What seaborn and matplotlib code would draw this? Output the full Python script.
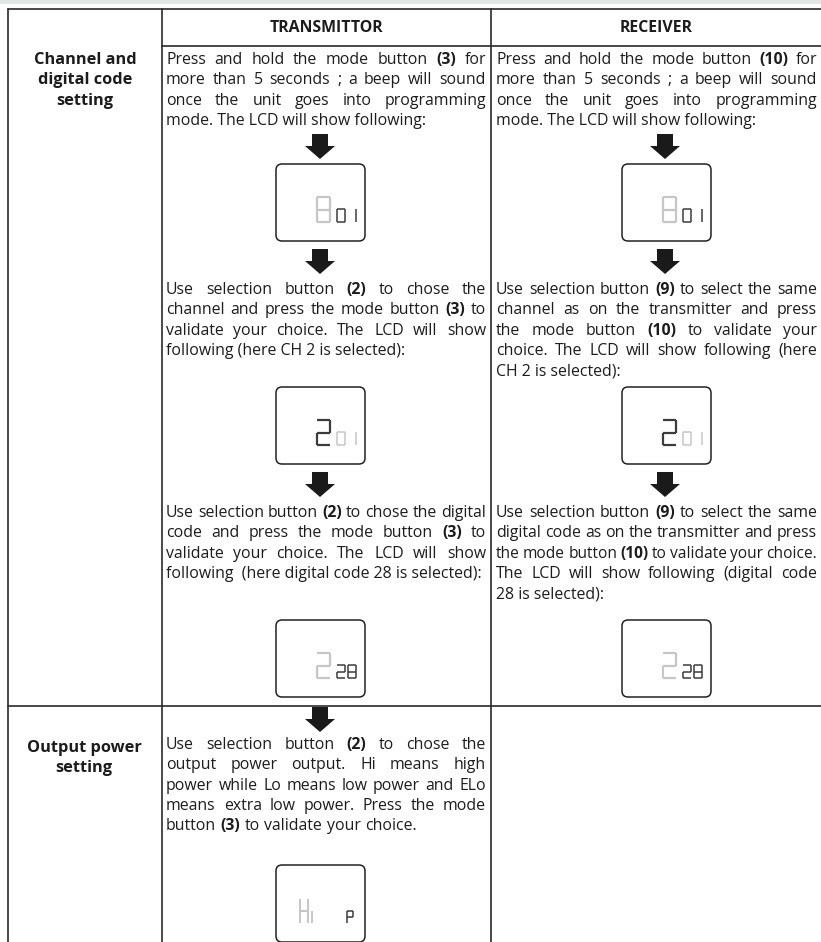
import matplotlib
matplotlib.use("Agg")
import matplotlib.pyplot as plt
import seaborn as sns
from matplotlib.patches import Polygon, FancyBboxPatch, Rectangle

# --- content -------------------------------------------------------------
header_labels = ["TRANSMITTOR", "RECEIVER"]
row_labels = ["Channel and\ndigital code\nsetting", "Output power\nsetting"]

tx_paragraphs = [
    ["Press and hold the mode button **(3)** for",
     "more than 5 seconds ; a beep will sound",
     "once the unit goes into programming",
     "mode. The LCD will show following:"],
    ["Use selection button **(2)** to chose the",
     "channel and press the mode button **(3)** to",
     "validate your choice. The LCD will show",
     "following (here CH 2 is selected):"],
    ["Use selection button **(2)** to chose the digital",
     "code and press the mode button **(3)** to",
     "validate your choice. The LCD will show",
     "following  (here digital code 28 is selected):"],
    ["Use selection button **(2)** to chose the",
     "output power output. Hi means high",
     "power while Lo means low power and ELo",
     "means extra low power. Press the mode",
     "button  **(3)**  to validate your choice."],
]
rx_paragraphs = [
    ["Press and hold the mode button **(10)** for",
     "more than 5 seconds ; a beep will sound",
     "once the unit goes into programming",
     "mode. The LCD will show following:"],
    ["Use selection button **(9)** to select the same",
     "channel as on the transmitter and press",
     "the mode button **(10)** to validate your",
     "choice. The LCD will show following (here",
     "CH 2 is selected):"],
    ["Use selection button **(9)** to select the same",
     "digital code as on the transmitter and press",
     "the mode button **(10)** to validate your choice.",
     "The LCD will show following (digital code",
     "28 is selected):"],
]

# LCD readings: big glyphs, small glyphs, which part is lit
lcd_main = ["8", "2", "2", "Hi"]
lcd_sub = ["01", "01", "28", "P"]
lcd_main_lit = [False, True, False, False]

# --- layout (pixel space) ------------------------------------------------
W, H = 821, 942
INK = "#1c1c1c"
LINE = "#2a2a2a"
LIT = "#3c3c3c"
UNLIT = "#c6c6c6"
FS = 11.4
LEAD = 20.3

sns.set_theme(style="white")
plt.rcParams["font.family"] = ["Open Sans", "DejaVu Sans"]

fig = plt.figure(figsize=(W / 100, H / 100), dpi=100)
ax = fig.add_axes([0, 0, 1, 1])
ax.set_xlim(0, W)
ax.set_ylim(H, 0)
ax.set_axis_off()
renderer = fig.canvas.get_renderer()

# grey strip at the very top
ax.add_patch(Rectangle((0, 0), W, 4, color="#e4e6e6", lw=0))

# table rules
lw = 1.2
ax.plot([8, W], [9, 9], color=LINE, lw=lw)
ax.plot([8, 8], [9, H], color=LINE, lw=lw)
ax.plot([162, 162], [9, H], color=LINE, lw=lw)
ax.plot([491, 491], [9, H], color=LINE, lw=lw)
ax.plot([162, W], [46, 46], color=LINE, lw=lw)
ax.plot([8, W], [706, 706], color=LINE, lw=lw)

for lab, cx in zip(header_labels, [326, 656]):
    ax.text(cx, 28, lab, ha="center", va="center", fontsize=FS,
            fontweight="bold", color=INK)

for lab, (cx, cy) in zip(row_labels, [(85, 60), (84, 748)]):
    for i, part in enumerate(lab.split("\n")):
        ax.text(cx, cy + i * LEAD, part, ha="center", va="center",
                fontsize=FS + 0.4, fontweight="bold", color=INK)


def draw_line(text, x0, x1, y, justify):
    if not justify and "**" not in text:
        ax.text(x0, y, text, fontsize=FS, ha="left", va="center", color=INK)
        return
    size = FS
    while True:
        arts = []
        for w in text.split():
            bold = w.startswith("**")
            arts.append(ax.text(0, y, w.strip("*"), fontsize=size,
                                fontweight="bold" if bold else "normal",
                                ha="left", va="center", color=INK))
        widths = [a.get_window_extent(renderer).width for a in arts]
        space = 0.28 * size * 100 / 72
        n = len(arts)
        if justify and n > 1:
            gap = (x1 - x0 - sum(widths)) / (n - 1)
        else:
            gap = space
        if (gap < space * 0.6 or x0 + sum(widths) + gap * (n - 1) > x1) and size > 9:
            for a in arts:
                a.remove()
            size -= 0.2
            continue
        x = x0
        for a, w in zip(arts, widths):
            a.set_x(x)
            x += w + gap
        return


def draw_par(lines, x0, x1, y0):
    for i, ln in enumerate(lines):
        draw_line(ln, x0, x1, y0 + i * LEAD, justify=i < len(lines) - 1)


def arrow(cx, y0):
    hw, sw, hh, tot = 15, 8, 13, 25
    pts = [(cx - sw, y0), (cx + sw, y0), (cx + sw, y0 + tot - hh),
           (cx + hw, y0 + tot - hh), (cx, y0 + tot), (cx - hw, y0 + tot - hh),
           (cx - sw, y0 + tot - hh)]
    ax.add_patch(Polygon(pts, closed=True, color="#1a1a1a", lw=0))


SEG = {
    "0": "abcdef", "1": "bc", "2": "abged", "8": "abcdefg",
    "H": "bcefg", "P": "abefg", "i": "c",
}


def seg_char(ch, x, yb, w, h, color, lw_):
    yt, ym = yb - h, yb - h / 2
    segs = {
        "a": ((x, yt), (x + w, yt)), "b": ((x + w, yt), (x + w, ym)),
        "c": ((x + w, ym), (x + w, yb)), "d": ((x, yb), (x + w, yb)),
        "e": ((x, ym), (x, yb)), "f": ((x, yt), (x, ym)),
        "g": ((x, ym), (x + w, ym)),
    }
    for s in SEG[ch]:
        (xa, ya), (xb, yb_) = segs[s]
        ax.plot([xa, xb], [ya, yb_], color=color, lw=lw_,
                solid_capstyle="butt")


def lcd(x, y, idx):
    ax.add_patch(FancyBboxPatch((x, y), 89, 77,
                                boxstyle="round,pad=0,rounding_size=6",
                                fc="white", ec="#222222", lw=1.1))
    main_col = LIT if lcd_main_lit[idx] else UNLIT
    sub_col = UNLIT if lcd_main_lit[idx] else LIT
    yb = y + 58
    if lcd_main[idx] == "Hi":
        seg_char("H", x + 24, yb, 8, 24, main_col, 1.4)
        seg_char("i", x + 36, yb, 0, 24, main_col, 1.4)
        seg_char("P", x + 71, yb, 6, 12, sub_col, 1.1)
        return
    seg_char(lcd_main[idx], x + 41, yb, 13, 25, main_col, 1.6)
    for k, ch in enumerate(lcd_sub[idx]):
        seg_char(ch, x + 61 + 11 * k, yb, 8, 13, sub_col, 1.1)


# transmitter column
tx_starts = [60, 290, 513, 745]
for par, y0 in zip(tx_paragraphs, tx_starts):
    draw_par(par, 166, 486, y0)
for y0 in [134, 249, 472, 707]:
    arrow(320, y0)
for i, y0 in enumerate([164, 387, 620, 865]):
    lcd(276, y0, i)

# receiver column
rx_starts = [60, 290, 513]
for par, y0 in zip(rx_paragraphs, rx_starts):
    draw_par(par, 496, 817, y0)
for y0 in [134, 249, 472]:
    arrow(665, y0)
for i, y0 in enumerate([164, 387, 620]):
    lcd(622, y0, i)

fig.savefig("out.png", dpi=100)
